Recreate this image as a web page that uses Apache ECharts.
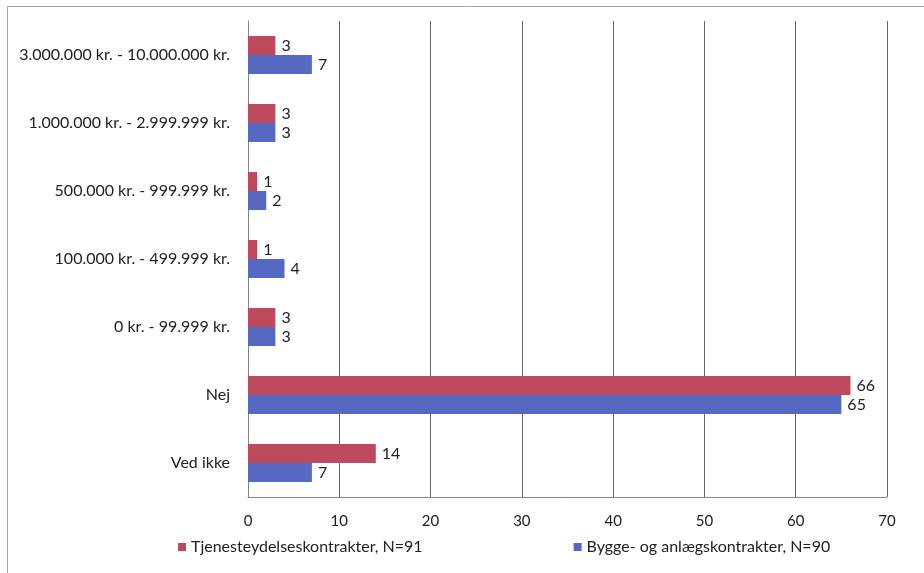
<!DOCTYPE html>
<html>
<head>
<meta charset="utf-8">
<script src="https://cdn.jsdelivr.net/npm/echarts@6/dist/echarts.min.js"></script>
<style>
  html, body { margin: 0; padding: 0; background: #fff; }
  #myChart { width: 924px; height: 573px; }
</style>
</head>
<body>
<div id="myChart"></div>
<script>
  // categories, top to bottom
  const categories = [
    '3.000.000 kr. - 10.000.000 kr.',
    '1.000.000 kr. - 2.999.999 kr.',
    '500.000 kr. - 999.999 kr.',
    '100.000 kr. - 499.999 kr.',
    '0 kr. - 99.999 kr.',
    'Nej',
    'Ved ikke'
  ];
  const tjenesteNavn = 'Tjenesteydelseskontrakter, N=91';
  const tjenesteData = [3, 3, 1, 1, 3, 66, 14];
  const byggeNavn = 'Bygge- og anlægskontrakter, N=90';
  const byggeData = [7, 3, 2, 4, 3, 65, 7];
  const xTicks = [0, 10, 20, 30, 40, 50, 60, 70];

  const font = 'Lato, "Open Sans", sans-serif';

  let myChart = echarts.init(document.getElementById('myChart'));

  myChart.setOption({
    animation: false,
    textStyle: { fontFamily: font },
    graphic: [{
      type: 'rect',
      shape: { x: 7.5, y: 6.5, width: 1000, height: 700 },
      style: { fill: 'none', stroke: '#a8a8a8', lineWidth: 1 },
      silent: true
    }],
    grid: {
      left: 248,
      right: 37,
      top: 21,
      bottom: 76
    },
    legend: {
      bottom: 13,
      left: 173,
      itemWidth: 8,
      itemHeight: 8,
      itemGap: 151,
      icon: 'rect',
      textStyle: { fontFamily: font, fontSize: 16, color: '#222' },
      data: [tjenesteNavn, byggeNavn]
    },
    xAxis: {
      type: 'value',
      min: xTicks[0],
      max: xTicks[xTicks.length - 1],
      interval: 10,
      axisLine: { show: true, lineStyle: { color: '#888' } },
      axisTick: { show: false },
      axisLabel: { color: '#222', fontSize: 15, margin: 17, fontFamily: font },
      splitLine: { show: true, lineStyle: { color: '#666', width: 1 } }
    },
    yAxis: {
      type: 'category',
      inverse: true,
      data: categories,
      axisLine: { show: true, lineStyle: { color: '#888' } },
      axisTick: { show: false },
      axisLabel: { color: '#222', fontSize: 16, margin: 18, fontFamily: font },
      splitLine: { show: false }
    },
    series: [
      {
        name: tjenesteNavn,
        type: 'bar',
        data: tjenesteData,
        barWidth: 19,
        barGap: '0%',
        itemStyle: { color: '#bf4a5d' },
        label: { show: true, position: 'right', distance: 6, color: '#222', fontSize: 16, fontFamily: font }
      },
      {
        name: byggeNavn,
        type: 'bar',
        data: byggeData,
        barWidth: 19,
        barGap: '0%',
        itemStyle: { color: '#5669c2' },
        label: { show: true, position: 'right', distance: 6, color: '#222', fontSize: 16, fontFamily: font }
      }
    ]
  });
</script>
</body>
</html>
